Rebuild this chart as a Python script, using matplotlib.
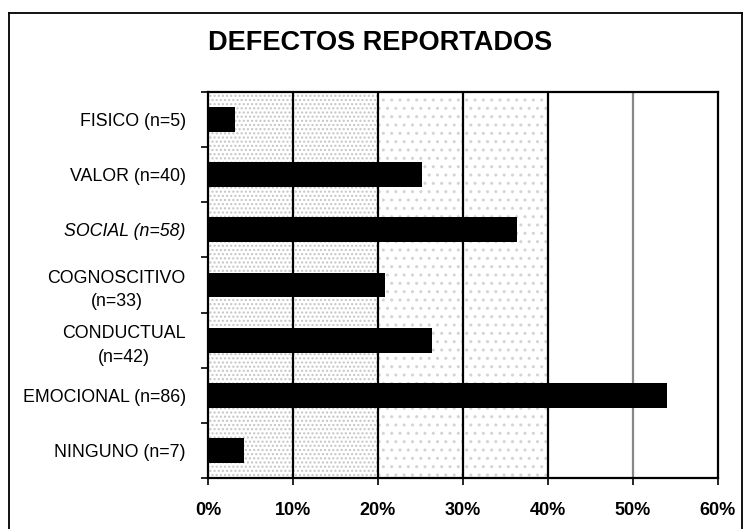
import matplotlib
matplotlib.use("Agg")
from matplotlib import pyplot as plt
from matplotlib import font_manager
from matplotlib.lines import Line2D

# datos (porcentaje de casos)
categorias = ["FISICO (n=5)", "VALOR (n=40)", "SOCIAL (n=58)", "COGNOSCITIVO\n(n=33)",
              "CONDUCTUAL\n(n=42)", "EMOCIONAL (n=86)", "NINGUNO (n=7)"]
porcentajes = [3.2, 25.2, 36.4, 20.8, 26.4, 54.0, 4.2]
ticks_x = [0, 10, 20, 30, 40, 50, 60]
etiquetas_x = ["0%", "10%", "20%", "30%", "40%", "50%", "60%"]

nombres = [f.name for f in font_manager.fontManager.ttflist]
fuente = "Liberation Sans"
fuente_titulo = "Liberation Sans Narrow" if "Liberation Sans Narrow" in nombres else "Liberation Sans"

W, H = 747, 529
fig = plt.figure(figsize=(W / 100, H / 100), dpi=100)
ax = fig.add_axes([208 / W, 1 - 478 / H, (718 - 208) / W, (478 - 92) / H])

# fondo punteado (mas denso a la izquierda, como el escaneo)
ax.set_facecolor("white")
ax.axvspan(0, 20, facecolor="white", edgecolor="#c4c4c4", hatch="....", lw=0, zorder=0)
ax.axvspan(20, 40, facecolor="white", edgecolor="#d4d4d4", hatch="..", lw=0, zorder=0)

y = list(range(len(categorias)))
ax.barh(y, porcentajes, height=0.45, color="black", zorder=3)

ax.set_ylim(len(categorias) - 0.5, -0.5)
ax.set_xlim(0, 60)

for t in ticks_x[1:-1]:
    col = "#888888" if t == 50 else "black"
    ax.axvline(t, color=col, lw=1.6, zorder=2)

ax.set_yticks(y)
ax.set_yticklabels(categorias, fontsize=12.8, family=fuente, ha="right",
                   multialignment="center", linespacing=1.5)
ax.tick_params(axis="y", which="major", length=0, pad=16)
ax.set_yticks([i + 0.5 for i in range(-1, len(categorias))], minor=True)
ax.tick_params(axis="y", which="minor", length=5, width=1.2, direction="out")
for lab in ax.get_yticklabels():
    if lab.get_text().startswith("SOCIAL"):
        lab.set_style("italic")

ax.set_xticks(ticks_x)
ax.set_xticklabels(etiquetas_x, fontsize=13, fontweight="bold", family=fuente)
ax.tick_params(axis="x", length=5, width=1.2, direction="out", pad=12)

for s in ax.spines.values():
    s.set_linewidth(1.6)
    s.set_color("black")

fig.text(380 / W, 1 - 43 / H, "DEFECTOS REPORTADOS", fontsize=19.5, fontweight="bold",
         family=fuente_titulo, ha="center", va="center")

# marco exterior
fig.add_artist(Line2D([9 / W, 9 / W], [0, 1 - 13 / H], color="black", lw=1.3))
fig.add_artist(Line2D([9 / W, 742 / W], [1 - 13 / H, 1 - 13 / H], color="black", lw=1.3))
fig.add_artist(Line2D([742 / W, 742 / W], [0, 1 - 13 / H], color="black", lw=1.3))

fig.savefig("out.png", dpi=100)
